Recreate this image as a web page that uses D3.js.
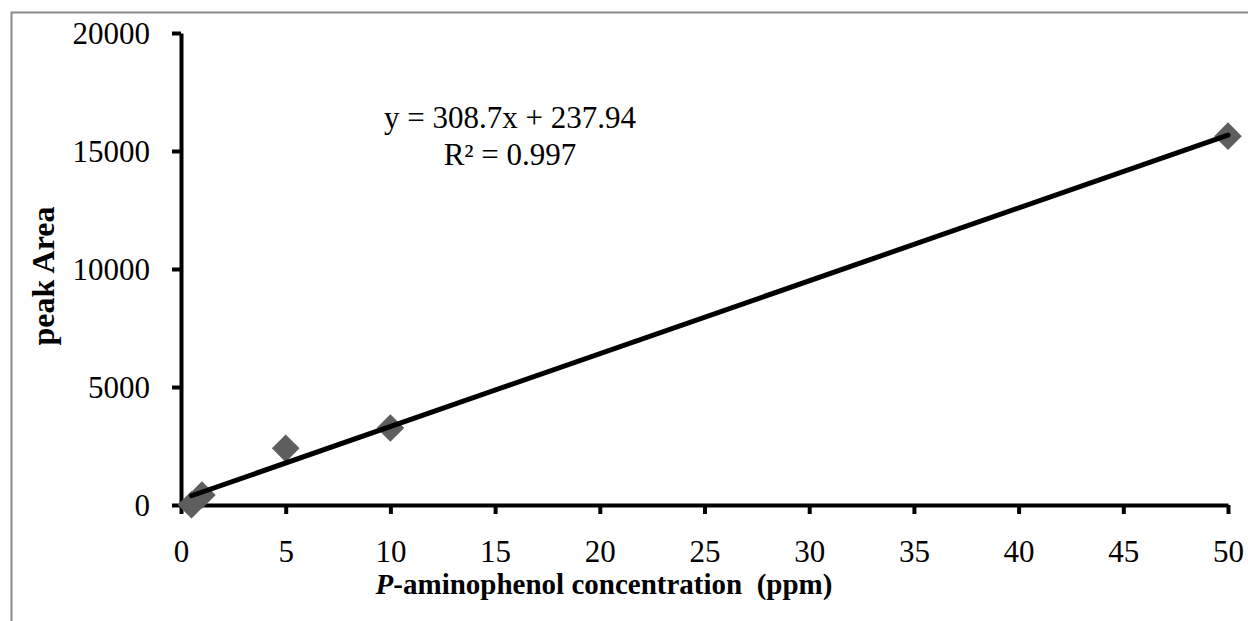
<!DOCTYPE html>
<html>
<head>
<meta charset="utf-8">
<script src="https://cdn.jsdelivr.net/npm/d3@7"></script>
<style>
  body { margin: 0; background: #fff; }
  svg { display: block; font-family: "Liberation Serif", "DejaVu Serif", serif; }
</style>
</head>
<body>
<div id="chart"></div>
<script>
// data
var concentration = [0.5, 1, 5, 10, 50];
var peakArea = [10, 420, 2400, 3260, 15630];
var xTicks = [0, 5, 10, 15, 20, 25, 30, 35, 40, 45, 50];
var yTicks = [0, 5000, 10000, 15000, 20000];
var fitSlope = 308.7;
var fitIntercept = 237.94;
var fitLabels = ["y = 308.7x + 237.94", "R\u00b2 = 0.997"];

var W = 1248, H = 621;

var svg = d3.select("#chart").append("svg")
  .attr("width", W)
  .attr("height", H);

// outer frame (runs off the right and bottom edges)
svg.append("rect")
  .attr("x", 11.5).attr("y", 12.5)
  .attr("width", W + 20).attr("height", H + 20)
  .attr("fill", "none")
  .attr("stroke", "#8a8a8a")
  .attr("stroke-width", 2);

var x = d3.scaleLinear().domain([0, 50]).range([181, 1228]);
var y = d3.scaleLinear().domain([0, 20000]).range([505, 33]);

// *****************************************************************************
// axes
// *****************************************************************************
var gx = svg.append("g")
  .attr("transform", "translate(0," + y(0) + ")")
  .call(d3.axisBottom(x).tickValues(xTicks).tickFormat(d3.format("d"))
    .tickSize(9).tickSizeOuter(0).tickPadding(26));

var gy = svg.append("g")
  .attr("transform", "translate(" + x(0) + ",0)")
  .call(d3.axisLeft(y).tickValues(yTicks).tickFormat(d3.format("d"))
    .tickSize(9).tickSizeOuter(0).tickPadding(22));

[gx, gy].forEach(function (g) {
  g.attr("font-family", null).attr("font-size", null);
  g.select(".domain").attr("stroke", "#000").attr("stroke-width", 4);
  g.selectAll(".tick line").attr("stroke", "#000").attr("stroke-width", 4);
  g.selectAll(".tick text")
    .attr("fill", "#000")
    .style("font-family", "'Liberation Serif', serif")
    .style("font-size", "31px");
});
gy.selectAll(".tick text").attr("dy", "0.34em");
gx.selectAll(".tick text").attr("dy", "0.72em");

// *****************************************************************************
// trend line + points
// *****************************************************************************
var xMin = d3.min(concentration), xMax = d3.max(concentration);
var fitLine = [xMin, xMax].map(function (v) { return [v, fitSlope * v + fitIntercept]; });

svg.append("g").selectAll("path.pt")
  .data(d3.zip(concentration, peakArea))
  .enter()
  .append("path")
  .attr("class", "pt")
  .attr("d", d3.symbol().type(d3.symbolSquare).size(380))
  .attr("transform", function (d) {
    return "translate(" + x(d[0]) + "," + y(d[1]) + ") rotate(45)";
  })
  .attr("fill", "#5e5e5e");

svg.append("path")
  .datum(fitLine)
  .attr("fill", "none")
  .attr("stroke", "#000")
  .attr("stroke-width", 5)
  .attr("stroke-linecap", "round")
  .attr("d", d3.line()
    .x(function (d) { return x(d[0]); })
    .y(function (d) { return y(d[1]); }));

// *****************************************************************************
// labels
// *****************************************************************************
svg.append("g").selectAll("text")
  .data(fitLabels)
  .enter()
  .append("text")
  .attr("x", 510)
  .attr("y", function (d, i) { return 128 + i * 37; })
  .attr("text-anchor", "middle")
  .style("font-size", "31px")
  .text(function (d) { return d; });

svg.append("text")
  .attr("transform", "translate(54,276) rotate(-90)")
  .attr("text-anchor", "middle")
  .style("font-size", "32px")
  .style("font-weight", "bold")
  .text("peak Area");

var xt = svg.append("text")
  .attr("x", 604)
  .attr("y", 594)
  .attr("text-anchor", "middle")
  .style("font-size", "29px")
  .style("font-weight", "bold")
  .attr("xml:space", "preserve");
xt.append("tspan").style("font-style", "italic").text("P");
xt.append("tspan").text("-aminophenol concentration  (ppm)");
</script>
</body>
</html>
